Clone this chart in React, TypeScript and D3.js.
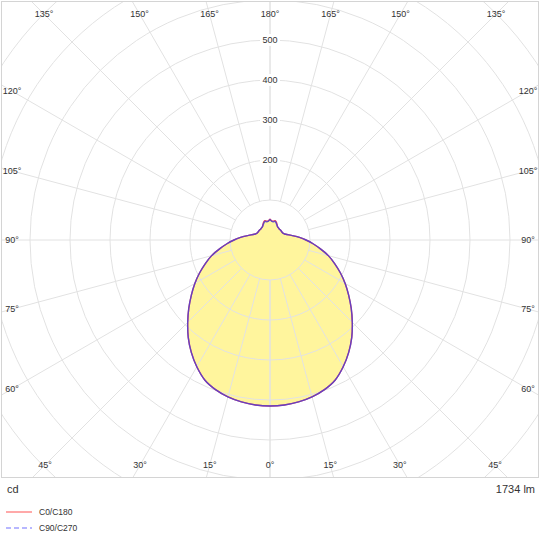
import React from "react";
import * as d3 from "d3";

// Gamma angles (deg, 0 = straight down) and luminous intensity (cd)
const gammaAngles = [0, 5, 10, 15, 20, 25, 30, 35, 40, 45, 50, 55, 60, 65, 70, 75, 80, 85, 90, 95, 100, 105, 110, 115, 120, 125, 130, 135, 140, 145, 150, 155, 160, 165, 170, 175, 180];
const c0c180 = [415, 414, 411, 406, 398, 386, 366, 343, 318, 291, 265, 240, 217, 194, 172, 151, 128, 108, 90, 74, 60, 49, 42, 38, 36, 36, 36, 36, 36, 37, 38, 42, 47, 50, 48, 48, 52];
const c90c270 = [415, 414, 411, 406, 398, 386, 366, 343, 318, 291, 265, 240, 217, 194, 172, 151, 128, 108, 90, 74, 60, 49, 42, 38, 36, 36, 36, 36, 36, 37, 38, 41, 45, 48, 46, 47, 51];

const ringValues = [100, 200, 300, 400, 500, 600, 700, 800, 900];
const ringLabels = [200, 300, 400, 500];
const spokeAngles = [0, 15, 30, 45, 60, 75, 90, 105, 120, 135, 150, 165, 180];

const unitLabel = "cd";
const fluxLabel = "1734 lm";
const legendItems = [
  { name: "C0/C180", color: "#ff7070", dash: "" },
  { name: "C90/C270", color: "#7070ff", dash: "5,3" },
];

const W = 540;
const frame = { x: 1.5, y: 1.5, w: 537, h: 476 };
const cx = 270;
const cy = 240;
const font = "'Liberation Sans', Arial, sans-serif";

const r = d3.scaleLinear().domain([0, 600]).range([0, 240]);
const rad = (deg: number) => (deg * Math.PI) / 180;

// Full closed outline: right half (0..180) then mirrored left half (180..0)
function outline(values: number[]) {
  const pts: [number, number][] = [];
  gammaAngles.forEach((g, i) => pts.push([Math.PI - rad(g), r(values[i])]));
  for (let i = gammaAngles.length - 2; i > 0; i--) {
    pts.push([Math.PI + rad(gammaAngles[i]), r(values[i])]);
  }
  return d3.lineRadial<[number, number]>()
    .angle((d) => d[0])
    .radius((d) => d[1])
    .curve(d3.curveCardinalClosed.tension(0.3))(pts) as string;
}

// Where a spoke meets the label band along the frame
function labelPos(gamma: number, side: number) {
  const dx = Math.sin(rad(gamma)) * side;
  const dy = Math.cos(rad(gamma));
  const left = 12, right = 528, top = 14, bottom = 465;
  let t = Infinity;
  if (dx > 1e-6) t = Math.min(t, (right - cx) / dx);
  if (dx < -1e-6) t = Math.min(t, (left - cx) / dx);
  if (dy > 1e-6) t = Math.min(t, (bottom - cy) / dy);
  if (dy < -1e-6) t = Math.min(t, (top - cy) / dy);
  return [cx + dx * t, cy + dy * t];
}

export default function App() {
  const gridColor = "#e2e2e2";
  const angleLabels: { x: number; y: number; text: string }[] = [];
  spokeAngles.forEach((g) => {
    const sides = g === 0 || g === 180 ? [1] : [-1, 1];
    sides.forEach((s) => {
      const [x, y] = labelPos(g, s);
      angleLabels.push({ x, y, text: `${g}°` });
    });
  });

  return (
    <svg width={W} height={540} style={{ position: "absolute", left: 0, top: 0, background: "#fff" }}>
      <defs>
        <clipPath id="plotClip">
          <rect x={frame.x} y={frame.y} width={frame.w} height={frame.h} />
        </clipPath>
      </defs>
      <rect x={0} y={0} width={W} height={540} fill="#fff" />
      <g clipPath="url(#plotClip)">
        <g transform={`translate(${cx},${cy})`}>
          <path d={outline(c0c180)} fill="#fff59d" stroke="none" />
          {ringValues.map((v) => (
            <circle key={v} r={r(v)} fill="none" stroke={gridColor} strokeWidth={1} />
          ))}
          {spokeAngles.map((g) =>
            [-1, 1].map((s) => (
              <line
                key={`${g}-${s}`}
                x1={Math.sin(rad(g)) * s * r(100)}
                y1={Math.cos(rad(g)) * r(100)}
                x2={Math.sin(rad(g)) * s * r(1000)}
                y2={Math.cos(rad(g)) * r(1000)}
                stroke={gridColor}
                strokeWidth={1}
              />
            ))
          )}
          <path d={outline(c0c180)} fill="none" stroke="#e04060" strokeWidth={1.4} />
          <path d={outline(c90c270)} fill="none" stroke="#5040d0" strokeWidth={1.4} strokeOpacity={0.85} />
          {ringLabels.map((v) => (
            <g key={v}>
              <rect x={-10} y={-r(v) - 6} width={20} height={12} fill="#fff" />
              <text x={0} y={-r(v)} dy="0.35em" textAnchor="middle" fontFamily={font} fontSize={9} fill="#333">
                {v}
              </text>
            </g>
          ))}
        </g>
        {angleLabels.map((l, i) => (
          <text key={i} x={l.x} y={l.y} dy="0.35em" textAnchor="middle" fontFamily={font} fontSize={9} fill="#333">
            {l.text}
          </text>
        ))}
      </g>
      <rect x={frame.x} y={frame.y} width={frame.w} height={frame.h} fill="none" stroke="#d4d4d4" strokeWidth={1} />
      <text x={7} y={493} fontFamily={font} fontSize={11} fill="#333">{unitLabel}</text>
      <text x={535} y={493} textAnchor="end" fontFamily={font} fontSize={11} fill="#333">{fluxLabel}</text>
      {legendItems.map((item, i) => (
        <g key={item.name} transform={`translate(6,${512 + i * 16})`}>
          <line x1={0} x2={26} y1={0} y2={0} stroke={item.color} strokeWidth={1.2} strokeDasharray={item.dash} />
          <text x={33} y={0} dy="0.35em" fontFamily={font} fontSize={8.5} fill="#333">{item.name}</text>
        </g>
      ))}
    </svg>
  );
}
